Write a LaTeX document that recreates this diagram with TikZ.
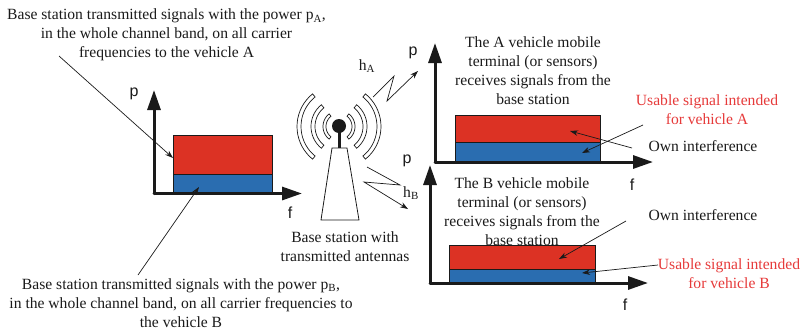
\documentclass[tikz,border=0pt]{standalone}
\usepackage{fontspec}
\setmainfont{Liberation Serif}
\newfontfamily\axfont{Liberation Sans}
\usetikzlibrary{arrows.meta}
\definecolor{sigred}{HTML}{DC3224}
\definecolor{sigblue}{HTML}{2A6DB0}
\definecolor{labred}{HTML}{E63A3A}
\definecolor{ink}{HTML}{1A1A1A}
\tikzset{
 x=1pt,y=-1pt,
 lab/.style={align=center,inner sep=0pt,text=ink,font=\fontsize{15.6}{19}\selectfont},
 redlab/.style={lab,text=labred},
 axlab/.style={inner sep=0pt,text=ink,font=\axfont\fontsize{16}{18}\selectfont},
 axis/.style={draw=ink,line width=3pt,line cap=round,-{Triangle[length=20pt,width=13pt]}},
 thin arrow/.style={draw=ink,line width=0.7pt,-{Stealth[length=8pt,width=5.5pt]}},
 band/.style={draw=ink,line width=0.8pt},
 wave/.style={draw=ink,line width=0.7pt,fill=white},
}
\begin{document}
\begin{tikzpicture}
\useasboundingbox (0,0) rectangle (803,330);
% left chart
\fill[sigred] (173.5,135) rectangle (272,174);
\fill[sigblue] (173.5,174) rectangle (272,193);
\draw[band] (173.5,174) rectangle (272,135);
\draw[band] (173.5,174) rectangle (272,193);
\coordinate (lo) at (154,193.5);
\coordinate (ly) at (154,90);
\coordinate (lx) at (302,193.5);
\draw[axis] (lo) -- (ly);
\draw[axis] (lo) -- (lx);
% chart A
\fill[sigred] (455,115) rectangle (600.5,142);
\fill[sigblue] (455,142) rectangle (600.5,162);
\draw[band] (455,142) rectangle (600.5,115);
\draw[band] (455,142) rectangle (600.5,162);
\coordinate (ao) at (435,162);
\coordinate (ay) at (435,43);
\coordinate (ax) at (653,162);
\draw[axis] (ao) -- (ay);
\draw[axis] (ao) -- (ax);
% chart B
\fill[sigred] (449,245.5) rectangle (595,269);
\fill[sigblue] (449,269) rectangle (595,283);
\draw[band] (449,269) rectangle (595,245.5);
\draw[band] (449,269) rectangle (595,283);
\coordinate (bo) at (430,283);
\coordinate (by) at (430,165);
\coordinate (bx) at (648,283);
\draw[axis] (bo) -- (by);
\draw[axis] (bo) -- (bx);
% axis labels
\node[axlab] (pl) at (134,94) {p};
\node[axlab] (fl) at (290,213) {f};
\node[axlab] (pa) at (413,53) {p};
\node[axlab] (fa) at (632,185) {f};
\node[axlab] (pb) at (407,161) {p};
\node[axlab] (fb) at (625,305) {f};
% antenna
\draw[draw=ink,line width=0.8pt,fill=white] (332,148) -- (347,148) -- (359,220) -- (321,220) -- cycle;
\draw[ink,line width=3pt] (339,127) -- (339,148);
\node[circle,fill=ink,minimum size=14pt,inner sep=0pt] (mast) at (339,126) {};
\foreach \ri/\ro/\ha in {13/16/52,24/28/51,38/42/51}{
  \draw[wave] plot[domain=-\ha:\ha,samples=19] ({339+\ro*cos(\x)},{126.5+\ro*sin(\x)})
     -- plot[domain=\ha:-\ha,samples=19] ({339+\ri*cos(\x)},{126.5+\ri*sin(\x)}) -- cycle;
  \draw[wave] plot[domain=-\ha:\ha,samples=19] ({339-\ro*cos(\x)},{126.5+\ro*sin(\x)})
     -- plot[domain=\ha:-\ha,samples=19] ({339-\ri*cos(\x)},{126.5+\ri*sin(\x)}) -- cycle;
}
% radio links
\coordinate (ha0) at (373,97); \coordinate (ha1) at (394,76);
\coordinate (ha2) at (387,101); \coordinate (ha3) at (418,71);
\draw[thin arrow] (ha0) -- (ha1) -- (ha2) -- (ha3);
\coordinate (hb0) at (367,167); \coordinate (hb1) at (400,185);
\coordinate (hb2) at (364,182); \coordinate (hb3) at (408,209);
\draw[thin arrow] (hb0) -- (hb1) -- (hb2) -- (hb3);
\node[lab] (hA) at (367,66) {h\textsubscript{A}};
\node[lab] (hB) at (411,193.5) {h\textsubscript{B}};
% texts
\node[lab] (tl) at (166.5,35) {Base station transmitted signals with the power p\textsubscript{A},\\in the whole channel band, on all carrier\\frequencies to the vehicle A};
\node[lab] (bl) at (181,303) {Base station transmitted signals with the power p\textsubscript{B},\\in the whole channel band, on all carrier frequencies to\\the vehicle B};
\node[lab] (bs) at (345,246.5) {Base station with\\transmitted antennas};
\node[lab] (ta) at (533,71) {The A vehicle mobile\\terminal (or sensors)\\receives signals from the\\base station};
\node[lab] (tb) at (522,212) {The B vehicle mobile\\terminal (or sensors)\\receives signals from the\\base station};
\node[redlab] (ra) at (707,109.5) {Usable signal intended\\for vehicle A};
\node[lab] (oa) at (703,146) {Own interference};
\node[lab] (ob) at (703,215) {Own interference};
\node[redlab] (rb) at (729,273.5) {Usable signal intended\\for vehicle B};
% pointers
\coordinate (s1) at (59,56); \coordinate (e1) at (173,158);
\coordinate (s2) at (138,275); \coordinate (e2) at (199,187);
\coordinate (s3) at (632,148); \coordinate (e3) at (570,131);
\coordinate (s4) at (643,125); \coordinate (e4) at (582,153);
\coordinate (s5) at (626,221); \coordinate (e5) at (559,259);
\coordinate (s6) at (658,265); \coordinate (e6) at (582,273);
\foreach \i in {1,...,6}{\draw[thin arrow] (s\i) -- (e\i);}
\end{tikzpicture}
\end{document}
